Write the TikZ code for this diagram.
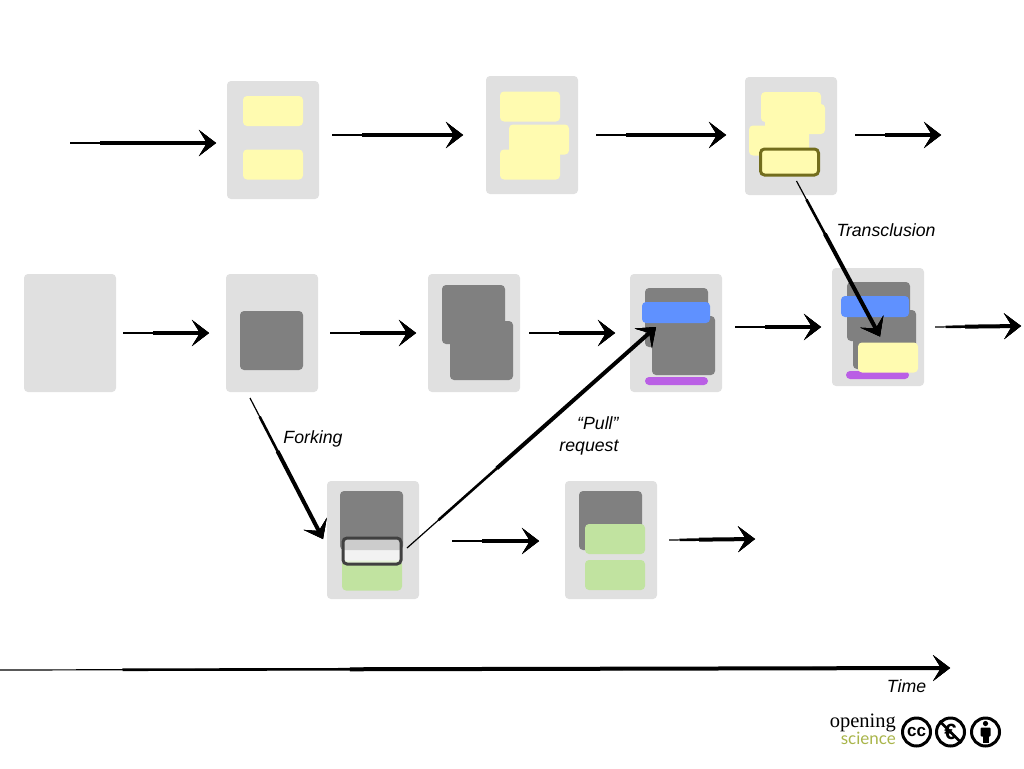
\documentclass[tikz,border=0pt]{standalone}
\usepackage{fontspec}
\setmainfont{Liberation Sans}
\newfontfamily\logoserif{Liberation Serif}
\newfontfamily\logosans{Lato}
\usetikzlibrary{arrows.meta}
\definecolor{pagegrey}{HTML}{E0E0E0}
\definecolor{notecolor}{HTML}{FFFBB0}
\definecolor{blockgrey}{HTML}{808080}
\definecolor{bluebar}{HTML}{5F91FF}
\definecolor{purplebar}{HTML}{BA5FE5}
\definecolor{forkgreen}{HTML}{C1E3A0}
\definecolor{logoolive}{HTML}{A9B54A}
\tikzstyle{box}=[inner sep=0pt, outer sep=0pt, rounded corners=4pt]
\tikzstyle{page}=[box, fill=pagegrey, minimum width=92pt, minimum height=118pt]
\tikzstyle{note}=[box, fill=notecolor, minimum width=60pt, minimum height=30pt]
\tikzstyle{block}=[box, fill=blockgrey, minimum width=63pt, minimum height=59pt]
\tikzstyle{change}=[box, fill=forkgreen, minimum width=60pt, minimum height=30pt]
\tikzstyle{blue bar}=[box, fill=bluebar, minimum width=68pt, minimum height=21pt]
\tikzstyle{purple bar}=[box, fill=purplebar, minimum width=63pt, minimum height=8pt]
\tikzstyle{picked}=[box, draw, line width=3pt, minimum width=58pt, minimum height=26pt]
\tikzstyle{label}=[inner sep=0pt, font=\fontsize{17.7}{22}\selectfont\itshape]
\tikzstyle{badge}=[circle, draw, line width=3pt, minimum size=28pt, inner sep=0pt]
\tikzset{
  brush/.style={line width=1.2pt, black,
    -{Stealth[length=17pt, width=26pt, inset=8pt, line width=1pt]},
    postaction={draw, line width=2.6pt, shorten <=#1*0.35},
    postaction={draw, line width=4pt, shorten <=#1}},
  brush/.default=30pt
}

\begin{document}
\begin{tikzpicture}[x=1pt, y=-1pt]
\useasboundingbox[fill=white] (0,0) rectangle (1024,768);
% Top row
    \node[page] (t1) at (273,140) {};
    \node[page] (t2) at (532,135) {};
    \node[page] (t3) at (791,136) {};
    \node[note] (t1a) at (273,111) {};
    \node[note] (t1b) at (273,164.5) {};
    \node[note] (t2a) at (530,106.5) {};
    \node[note] (t2b) at (539,139.5) {};
    \node[note] (t2c) at (530,164.5) {};
    \node[note] (t3a) at (791,107) {};
    \node[note] (t3b) at (795,119) {};
    \node[note] (t3c) at (779,140.5) {};
    \node[picked, draw=olive!75!black, fill=notecolor] (t3d) at (789.5,162) {};
% Middle row
    \node[page] (m1) at (70,333) {};
    \node[page] (m2) at (272,333) {};
    \node[page] (m3) at (474,333) {};
    \node[page] (m4) at (676,333) {};
    \node[page] (m5) at (878,327) {};
    \node[block] (m2a) at (271.5,340.5) {};
    \node[block] (m3a) at (473.5,314.5) {};
    \node[block] (m3b) at (481.5,350.5) {};
    \node[block] (m4a) at (676.5,317.5) {};
    \node[block] (m4b) at (683.5,345.5) {};
    \node[blue bar] (m4c) at (676,312.5) {};
    \node[purple bar] (m4d) at (676.5,381) {};
    \node[block] (m5a) at (878.5,311.5) {};
    \node[block] (m5b) at (884.5,339.5) {};
    \node[blue bar] (m5c) at (875,306.5) {};
    \node[purple bar] (m5d) at (877.5,375) {};
    \node[note] (m5e) at (888,357.5) {};
% Bottom row
    \node[page] (b1) at (373,540) {};
    \node[page] (b2) at (611,540) {};
    \node[block] (b1a) at (371.5,520.5) {};
    \node[change] (b1b) at (372,575.5) {};
    \node[picked, draw=black!75, fill=white, fill opacity=0.6, draw opacity=1] (b1c) at (372,551) {};
    \node[block] (b2a) at (610.5,520.5) {};
    \node[change] (b2b) at (615,539) {};
    \node[change] (b2c) at (615,575) {};
% Arrows
    \coordinate (start) at (70,143);
    \coordinate (end top) at (941,135);
    \coordinate (end middle) at (1021,326);
    \coordinate (end bottom) at (755,539);
    \coordinate (time start) at (0,670);
    \coordinate (time end) at (950,668);
    \draw[brush] (start) -- ([xshift=-11]t1.west |- start);
    \draw[brush] ([xshift=13]t1.east |- t2) -- ([xshift=-23]t2.west);
    \draw[brush] ([xshift=18]t2.east) -- ([xshift=-19]t3.west |- t2);
    \draw[brush] ([xshift=18]t3.east |- t2) -- (end top);
    \draw[brush] ([xshift=7]m1.east) -- ([xshift=-17]m2.west);
    \draw[brush] ([xshift=12]m2.east) -- ([xshift=-12]m3.west);
    \draw[brush] ([xshift=9]m3.east) -- ([xshift=-15]m4.west);
    \draw[brush] ([xshift=13]m4.east |- m5) -- ([xshift=-11]m5.west);
    \draw[brush] ([xshift=11]m5.east) -- (end middle);
    \draw[brush] ([xshift=33]b1.east |- 0,541) -- ([xshift=-26]b2.west |- 0,541);
    \draw[brush] ([xshift=12]b2.east) -- (end bottom);
    \draw[brush=60pt] ([shift={(-22,6)}]m2.south) -- ([shift={(-4,-1)}]b1.west);
    \draw[brush=120pt] ([shift={(6,-3)}]b1c.east) -- ([shift={(-20,4)}]m4c.south);
    \draw[brush=60pt] ([shift={(7,6)}]t3d.south) -- ([shift={(-8,-6)}]m5e.north);
    \draw[brush=350pt] (time start) -- (time end);
% Labels
    \node[label] (transclusion) at (886,230) {Transclusion};
    \node[label] (forking) at (313,439) {Forking};
    \node[label, align=right] (pull) at (589,436) {“Pull”\\request};
    \node[label] (time) at (906.5,686) {Time};
% Logo
    \node[inner sep=0pt, anchor=east, font=\logoserif\fontsize{20.5}{20}\selectfont] (opening) at (896,723) {opening};
    \node[inner sep=0pt, anchor=east, text=logoolive, font=\logosans\fontsize{17}{17}\selectfont] (science) at (896,738) {science};
    \node[badge, font=\bfseries\fontsize{17}{17}\selectfont] (cc) at (916.5,732) {cc};
    \node[badge, font=\bfseries\fontsize{22}{22}\selectfont] (nc) at (950.5,732) {€};
    \draw[line width=2.6pt] (nc.north west) -- (nc.south east);
    \node[badge] (by) at (985.5,732) {};
    \fill (985.5,723.5) circle (2.6);
    \fill[rounded corners=1pt] (980.5,727.5) rectangle (990.5,736.5);
    \fill (982.5,736) rectangle (988.5,743);
\end{tikzpicture}
\end{document}
